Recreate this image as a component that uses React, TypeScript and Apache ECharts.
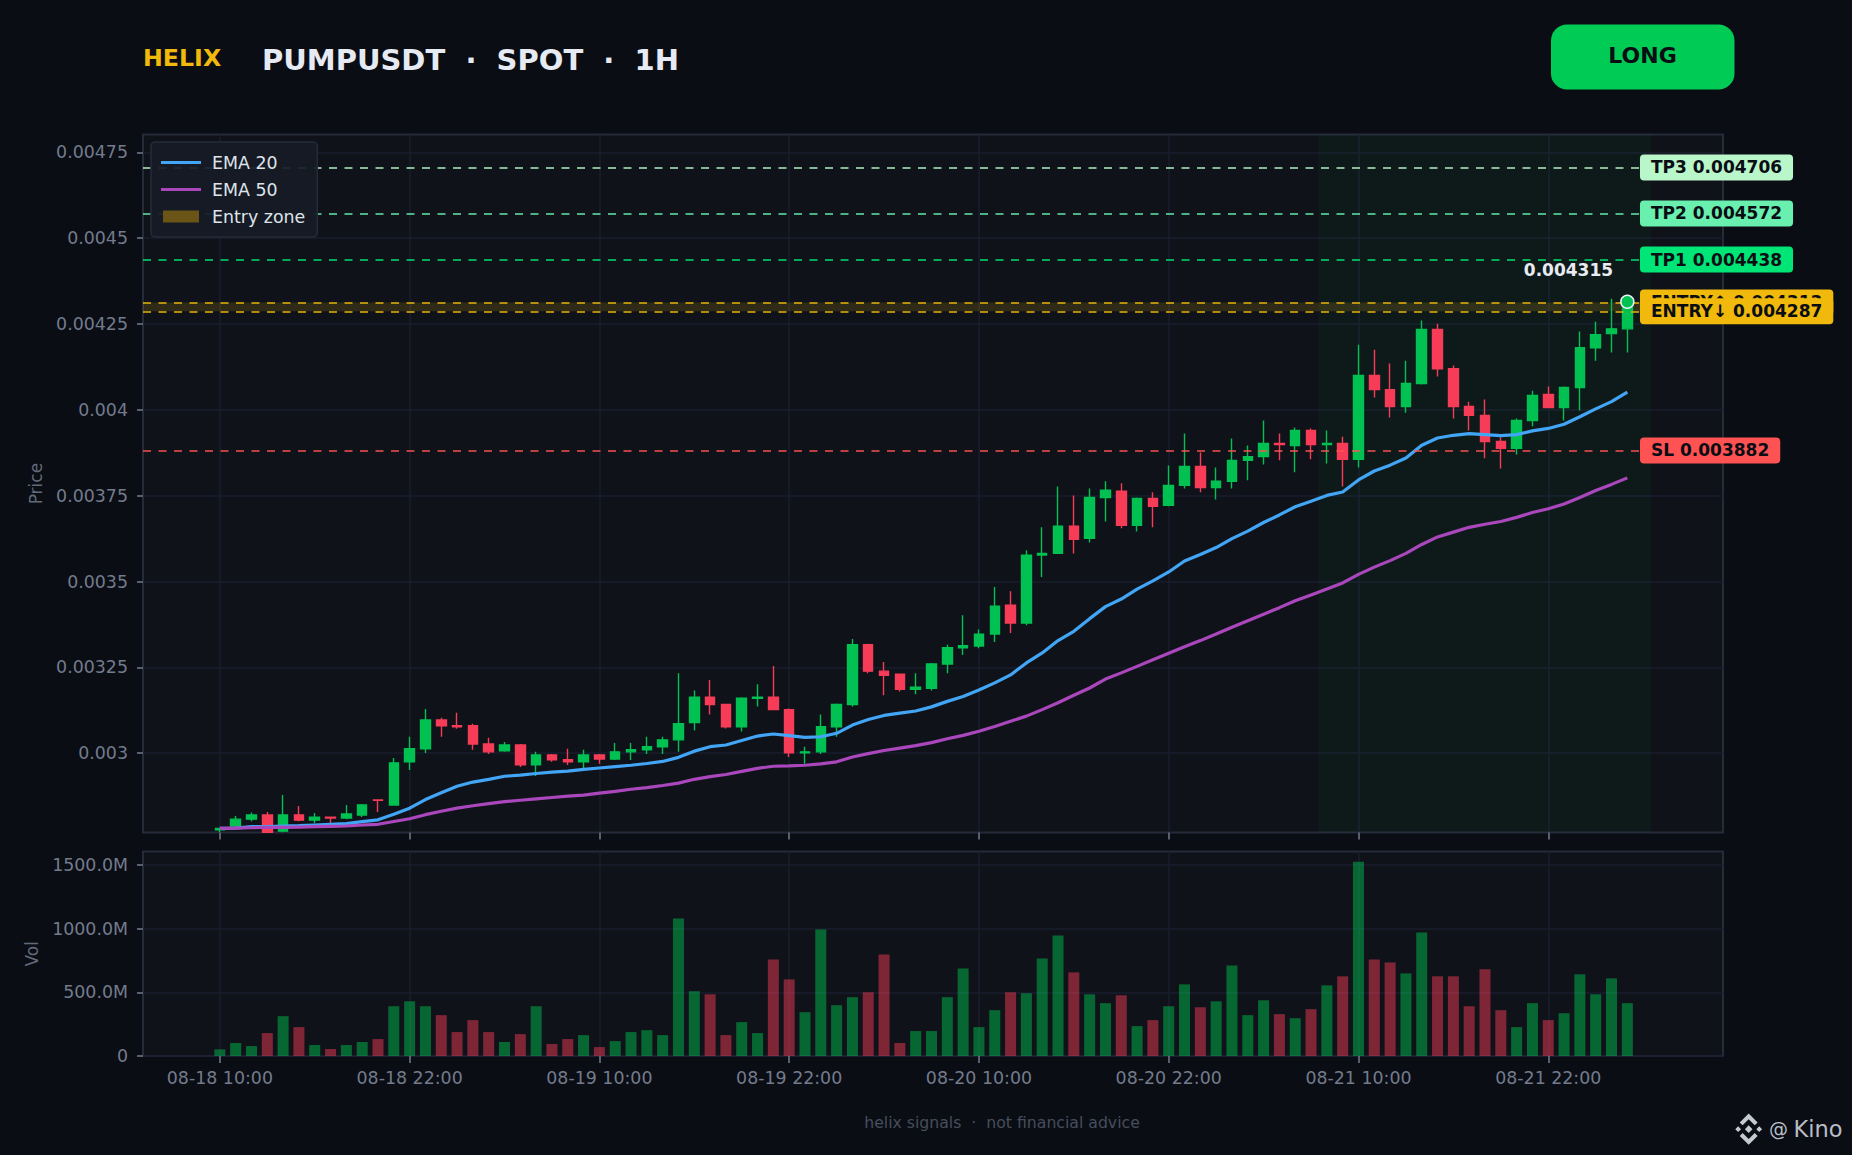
import React, { useEffect, useRef } from "react";
import * as echarts from "echarts";

const PRICE_UNIT = 1e-6;
const opens = [2777,2788,2808,2820,2773,2820,2805,2814,2811,2820,2864,2849,2975,3013,3097,3080,3080,3027,3007,3024,2966,2995,2981,2975,2995,2983,3004,3010,3019,3039,3089,3163,3142,3077,3160,3163,3127,3001,3004,3077,3142,3316,3239,3230,3186,3189,3260,3307,3312,3347,3431,3379,3577,3582,3661,3626,3745,3763,3664,3742,3722,3780,3835,3774,3792,3853,3864,3902,3896,3940,3899,3902,3856,4100,4059,4010,4077,4234,4120,4010,3984,3908,3888,3969,4045,4007,4065,4181,4222,4236];
const closes = [2781,2808,2820,2770,2820,2805,2814,2811,2823,2849,2863,2972,3013,3097,3080,3077,3027,3004,3024,2966,2995,2981,2975,2995,2983,3004,3010,3019,3039,3086,3163,3142,3077,3160,3163,3127,3001,3004,3077,3142,3316,3239,3227,3186,3192,3260,3307,3313,3347,3428,3379,3577,3582,3661,3623,3745,3766,3664,3742,3719,3780,3835,3774,3792,3853,3864,3902,3899,3940,3899,3902,3856,4100,4059,4010,4077,4234,4120,4010,3984,3908,3888,3969,4042,4007,4065,4181,4219,4236,4315];
const lows = [2770,2786,2802,2770,2770,2802,2796,2782,2808,2814,2829,2849,2951,3001,3048,3071,3010,2998,3004,2960,2934,2975,2966,2957,2969,2980,2980,2998,2998,3004,3066,3113,3072,3063,3136,3127,2989,2969,2998,3048,3136,3233,3169,3180,3172,3183,3233,3286,3306,3324,3350,3373,3513,3582,3582,3614,3675,3655,3646,3658,3719,3771,3760,3739,3771,3795,3841,3853,3818,3856,3844,3777,3832,4036,3978,3992,4074,4097,3975,3940,3859,3829,3870,3952,4007,3969,3998,4143,4167,4167];
const highs = [2782,2817,2827,2829,2878,2846,2826,2814,2849,2852,2864,2986,3048,3129,3103,3118,3086,3045,3033,3027,3004,2998,3013,3010,2998,3030,3030,3048,3048,3233,3183,3213,3142,3163,3201,3254,3130,3019,3113,3145,3333,3319,3266,3230,3233,3263,3316,3402,3360,3484,3472,3591,3658,3777,3751,3771,3792,3786,3745,3760,3838,3931,3876,3832,3917,3896,3969,3931,3949,3946,3940,3922,4190,4175,4135,4143,4260,4251,4129,4024,4030,3920,3975,4056,4068,4068,4228,4257,4324,4315];
const volumesM = [52,102,78,180,313,227,86,55,86,110,133,391,430,391,321,188,282,188,110,172,391,94,133,164,70,117,188,203,164,1080,509,485,164,266,180,759,602,344,994,399,462,501,798,102,196,196,462,688,227,360,501,493,767,947,657,485,415,477,235,282,391,563,383,430,712,321,438,329,297,368,555,626,1526,759,735,649,970,626,626,391,681,360,227,415,282,336,642,485,610,415];
const ema20 = [2781,2782,2786,2786,2788,2789,2791,2793,2795,2801,2806,2822,2840,2865,2885,2904,2916,2924,2933,2936,2941,2945,2948,2953,2957,2961,2965,2970,2976,2988,3006,3019,3024,3037,3050,3056,3051,3046,3048,3058,3082,3098,3110,3117,3123,3135,3151,3165,3184,3205,3228,3263,3292,3328,3355,3392,3427,3449,3478,3502,3528,3560,3579,3599,3625,3647,3672,3694,3718,3734,3751,3761,3796,3822,3839,3860,3897,3918,3926,3931,3928,3925,3928,3939,3946,3958,3980,4003,4024,4052];
const ema50 = [2781,2782,2783,2784,2784,2785,2786,2787,2788,2791,2793,2801,2809,2821,2831,2840,2847,2853,2859,2863,2867,2871,2875,2878,2884,2889,2895,2900,2906,2913,2924,2932,2938,2947,2956,2962,2963,2965,2969,2975,2989,2999,3008,3015,3022,3031,3042,3052,3064,3078,3093,3108,3127,3147,3169,3190,3216,3234,3253,3272,3291,3310,3328,3347,3367,3386,3405,3424,3444,3461,3478,3496,3521,3542,3561,3582,3608,3630,3644,3658,3667,3675,3687,3701,3712,3726,3745,3765,3783,3802];

const xTickPositions = [0, 12, 24, 36, 48, 60, 72, 84];
const xTickLabels = ["08-18 10:00","08-18 22:00","08-19 10:00","08-19 22:00","08-20 10:00","08-20 22:00","08-21 10:00","08-21 22:00"];
const priceTicks = [0.003, 0.00325, 0.0035, 0.00375, 0.004, 0.00425, 0.0045, 0.00475];
const volumeTicks = [0, 500, 1000, 1500];
const levels = [
  { name: "TP3", price: 0.004706, color: "#b9f6ca" },
  { name: "TP2", price: 0.004572, color: "#69f0ae" },
  { name: "TP1", price: 0.004438, color: "#00e676" },
  { name: "SL", price: 0.003882, color: "#ff5252" },
  { name: "ENTRY↑", price: 0.004313, color: "#f0b90b" },
  { name: "ENTRY↓", price: 0.004287, color: "#f0b90b" },
];
const entryZone = [0.004287, 0.004313];
const longZone = [69.46, 90.5];
const xRange = [-4.86, 95.05];
const yRange = [0.0027688, 0.0048018];
const levelEndX = 89.8;

const FONT = "DejaVu Sans";
const UP = "#00c151";
const DOWN = "#f73c58";
const BG = "#0a0d14";
const PANEL = "#0f1218";
const BORDER = "#262b3a";
const GRIDLINE = "#1a1e2e";
const TICK = "#737b8c";
const INK = "#0a0d14";

const LOGO_PATH =
  "M14 0L22 8L19.4 10.6L14 5.2L8.6 10.6L6 8Z M14 28L22 20L19.4 17.4L14 22.8L8.6 17.4L6 20Z M14 10.6L17.4 14L14 17.4L10.6 14Z M4.6 11.4L7.2 14L4.6 16.6L2 14Z M23.4 11.4L26 14L23.4 16.6L20.8 14Z";
echarts.graphic.registerShape("logo", echarts.graphic.extendPath(LOGO_PATH, {}));

const LEGEND_LINE_ICON = "path://M0 0L0.01 0L0 0.01Z M0 5.5H40V8.5H0Z M40 14L39.99 14L40 13.99Z";
const LEGEND_ZONE_ICON = "path://M0 0L0.01 0L0 0.01Z M2 1H38V13H2Z M40 14L39.99 14L40 13.99Z";

function hexAlpha(hex: string, a: number) {
  const n = parseInt(hex.slice(1), 16);
  return `rgba(${(n >> 16) & 255},${(n >> 8) & 255},${n & 255},${a})`;
}

function buildOption() {
  const idx = opens.map((_, i) => i);
  const candleData = idx.map((i) => [i, opens[i] * PRICE_UNIT, closes[i] * PRICE_UNIT, lows[i] * PRICE_UNIT, highs[i] * PRICE_UNIT]);
  const volData = idx.map((i) => ({
    value: [i, volumesM[i]],
    itemStyle: { color: hexAlpha(closes[i] >= opens[i] ? "#00c853" : "#ff3d5a", 0.47) },
  }));
  const last = idx.length - 1;
  const baseX = {
    type: "value",
    min: xRange[0],
    max: xRange[1],
    axisLine: { show: false, onZero: false },
    axisTick: { show: true, customValues: xTickPositions, length: 7, lineStyle: { color: TICK, width: 1.5 } },
    splitLine: { show: true, lineStyle: { color: GRIDLINE, width: 1.5 } },
  };
  const baseY = {
    type: "value",
    axisLine: { show: false, onZero: false },
    axisTick: { show: true, length: 6, lineStyle: { color: TICK, width: 1.5 } },
    splitLine: { show: true, lineStyle: { color: GRIDLINE, width: 1.5 } },
    nameLocation: "middle",
    nameRotate: 90,
    nameTextStyle: { color: "#626a7a", fontSize: 17, fontFamily: FONT },
  };
  const axisText = { color: TICK, fontSize: 17.4, fontFamily: FONT };
  return {
    animation: false,
    backgroundColor: BG,
    textStyle: { fontFamily: FONT },
    grid: [
      { left: 143, top: 134.6, width: 1580, height: 698, show: true, backgroundColor: PANEL, borderColor: BORDER, borderWidth: 2 },
      { left: 143, top: 851.5, width: 1580, height: 204.5, show: true, backgroundColor: PANEL, borderColor: BORDER, borderWidth: 2 },
    ],
    legend: {
      left: 151,
      top: 142,
      z: 10,
      orient: "vertical",
      padding: [12, 12, 12, 10],
      itemWidth: 40,
      itemHeight: 14,
      itemGap: 10,
      selectedMode: false,
      backgroundColor: "rgba(22,27,38,0.93)",
      borderColor: BORDER,
      borderWidth: 1.5,
      borderRadius: 4,
      textStyle: { color: "#dfe3ea", fontSize: 17.4, fontFamily: FONT, padding: [0, 0, 0, 6] },
      data: [
        { name: "EMA 20", icon: LEGEND_LINE_ICON },
        { name: "EMA 50", icon: LEGEND_LINE_ICON },
        { name: "Entry zone", icon: LEGEND_ZONE_ICON },
      ],
    },
    xAxis: [
      { ...baseX, gridIndex: 0, axisLabel: { show: false } },
      {
        ...baseX,
        gridIndex: 1,
        axisLabel: {
          ...axisText,
          margin: 13,
          customValues: xTickPositions,
          formatter: (v: number) => xTickLabels[xTickPositions.indexOf(v)] ?? "",
        },
      },
    ],
    yAxis: [
      {
        ...baseY,
        gridIndex: 0,
        min: yRange[0],
        max: yRange[1],
        name: "Price",
        nameGap: 99,
        axisTick: { ...baseY.axisTick, customValues: priceTicks },
        axisLabel: {
          ...axisText,
          margin: 15,
          padding: [2, 0, 0, 0],
          customValues: priceTicks,
          formatter: (v: number) => String(Number(v.toFixed(5))),
        },
      },
      {
        ...baseY,
        gridIndex: 1,
        min: 0,
        max: 1607,
        name: "Vol",
        nameGap: 103,
        axisTick: { ...baseY.axisTick, customValues: volumeTicks },
        axisLabel: {
          ...axisText,
          margin: 15,
          padding: [2, 0, 0, 0],
          customValues: volumeTicks,
          formatter: (v: number) => (v === 0 ? "0" : `${v.toFixed(1)}M`),
        },
      },
    ],
    series: [
      {
        type: "candlestick",
        name: "PUMPUSDT",
        xAxisIndex: 0,
        yAxisIndex: 0,
        z: 2,
        barWidth: 10,
        data: candleData,
        itemStyle: { color: UP, color0: DOWN, borderColor: UP, borderColor0: DOWN, borderWidth: 1.4 },
      },
      {
        type: "line",
        name: "EMA 20",
        xAxisIndex: 0,
        yAxisIndex: 0,
        z: 3,
        showSymbol: false,
        symbol: "none",
        data: ema20.map((v, i) => [i, v * PRICE_UNIT]),
        lineStyle: { color: "#42a5f5", width: 3.2 },
        itemStyle: { color: "#42a5f5" },
      },
      {
        type: "line",
        name: "EMA 50",
        xAxisIndex: 0,
        yAxisIndex: 0,
        z: 3,
        showSymbol: false,
        symbol: "none",
        data: ema50.map((v, i) => [i, v * PRICE_UNIT]),
        lineStyle: { color: "#ab47bc", width: 3.2 },
        itemStyle: { color: "#ab47bc" },
      },
      {
        type: "line",
        name: "Entry zone",
        xAxisIndex: 0,
        yAxisIndex: 0,
        z: 1,
        symbol: "none",
        data: [],
        itemStyle: { color: "#6b5516" },
        lineStyle: { color: "#6b5516", width: 0 },
        markArea: {
          silent: true,
          z: 1,
          data: [
            [
              { coord: [longZone[0], yRange[0]], itemStyle: { color: "rgba(0,200,83,0.045)" } },
              { coord: [longZone[1], yRange[1]] },
            ],
            [
              { coord: [xRange[0], entryZone[0]], itemStyle: { color: "rgba(240,185,11,0.15)" } },
              { coord: [levelEndX, entryZone[1]] },
            ],
          ],
        },
        markLine: {
          silent: true,
          z: 5,
          symbol: "none",
          data: levels.map((l) => [
            {
              coord: [xRange[0], l.price],
              lineStyle: { color: hexAlpha(l.color, 0.72), width: 2.2, type: [8, 7.5] },
              label: {
                show: true,
                position: "end",
                distance: 0,
                formatter: `${l.name} ${l.price.toFixed(6)}`,
                color: INK,
                fontFamily: FONT,
                fontWeight: "bold",
                fontSize: 17,
                lineHeight: 17,
                align: "left",
                backgroundColor: l.color,
                borderRadius: 4,
                padding: [3, 11, 6, 11],
              },
            },
            { coord: [levelEndX, l.price] },
          ]),
        },
      },
      {
        type: "scatter",
        name: "Last",
        xAxisIndex: 0,
        yAxisIndex: 0,
        z: 6,
        symbolSize: 13,
        data: [[last, closes[last] * PRICE_UNIT]],
        itemStyle: { color: UP, borderColor: "#eef2f7", borderWidth: 1.5, opacity: 1 },
        label: {
          show: true,
          position: "left",
          distance: 7,
          offset: [0, -32],
          color: "#e8ebf2",
          fontFamily: FONT,
          fontWeight: "bold",
          fontSize: 17,
          formatter: (p: any) => p.value[1].toFixed(6),
        },
      },
      {
        type: "bar",
        name: "Vol",
        xAxisIndex: 1,
        yAxisIndex: 1,
        barWidth: 11,
        data: volData,
      },
    ],
    graphic: [
      { type: "text", x: 143, y: 58, style: { text: "HELIX", fill: "#f0b90b", font: `bold 23.7px "${FONT}"`, textVerticalAlign: "middle" } },
      { type: "text", x: 262, y: 60, style: { text: "PUMPUSDT  ·  SPOT  ·  1H", fill: "#e6eaf2", font: `bold 29px "${FONT}"`, textVerticalAlign: "middle" } },
      { type: "rect", shape: { x: 1551, y: 24.5, width: 183.5, height: 65, r: 16 }, style: { fill: "#00cc55" } },
      { type: "text", x: 1642.5, y: 55, style: { text: "LONG", fill: INK, font: `bold 22px "${FONT}"`, textAlign: "center", textVerticalAlign: "middle" } },
      { type: "text", x: 1002, y: 1122, style: { text: "helix signals  ·  not financial advice", fill: "#474d5c", font: `15.7px "${FONT}"`, textAlign: "center", textVerticalAlign: "middle" } },
      { type: "logo", x: 1733, y: 1113.5, scaleX: 1.12, scaleY: 1.12, style: { fill: "#c5c9d1" } },
      { type: "text", x: 1769, y: 1129, style: { text: "@", fill: "#b9bdc5", font: `19px "${FONT}"`, textVerticalAlign: "middle" } },
      { type: "text", x: 1793.5, y: 1129, style: { text: "Kino", fill: "#b9bdc5", font: `22.5px "${FONT}"`, textVerticalAlign: "middle" } },
    ],
  };
}

export default function App() {
  const ref = useRef<HTMLDivElement>(null);
  useEffect(() => {
    document.body.style.margin = "0";
    document.body.style.background = BG;
    const chart = echarts.init(ref.current!, undefined, { renderer: "svg" });
    chart.setOption(buildOption() as any);
    return () => chart.dispose();
  }, []);
  return <div ref={ref} style={{ width: 1852, height: 1155 }} />;
}
